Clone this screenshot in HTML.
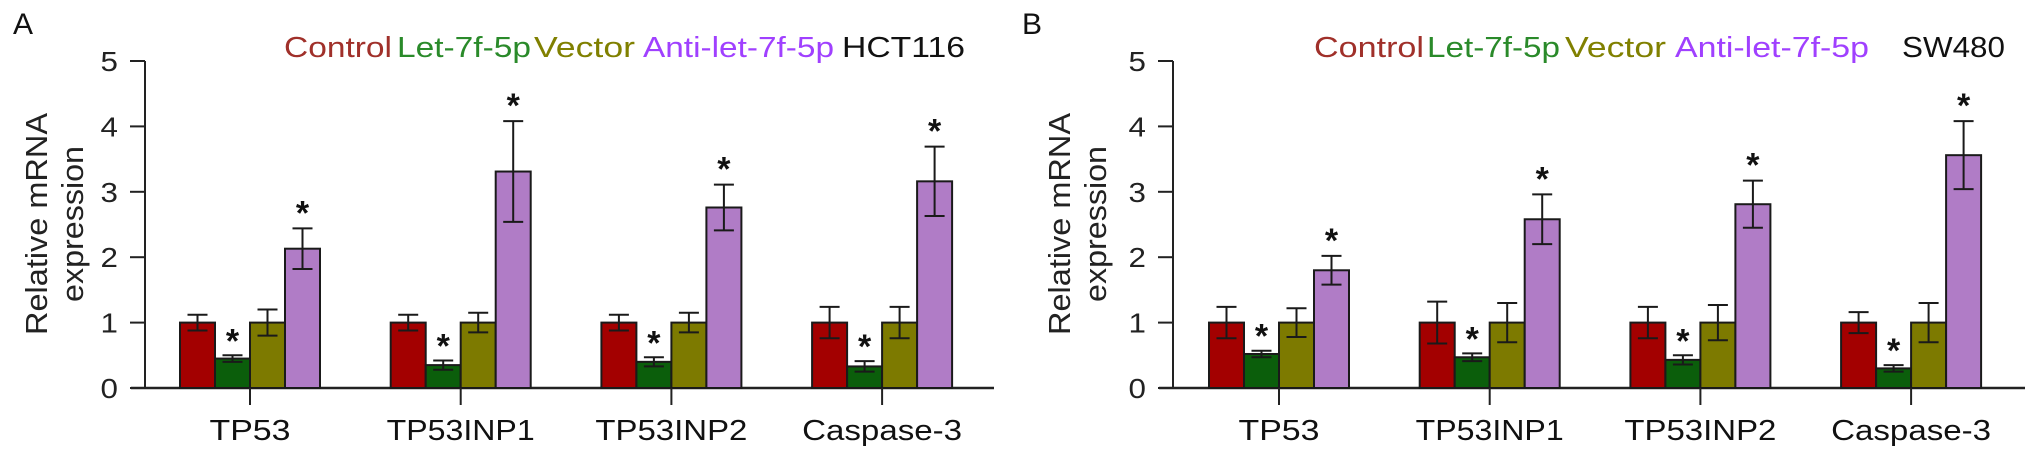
<!DOCTYPE html>
<html><head><meta charset="utf-8"><style>
html,body{margin:0;padding:0;background:#fff;}
svg{display:block;font-family:"Liberation Sans",Arial,sans-serif;}
</style></head><body>
<svg id="c" width="2031" height="459" viewBox="0 0 2031 459" xmlns="http://www.w3.org/2000/svg"></svg>
<script>
const categories = ["TP53","TP53INP1","TP53INP2","Caspase-3"];
const seriesNames = ["Control","Let-7f-5p","Vector","Anti-let-7f-5p"];
const yTicks = [0,1,2,3,4,5];
// Panel A (HCT116)
const aControl = [1,1,1,1];
const aControlErr = [0.12,0.12,0.12,0.24];
const aLet = [0.45,0.35,0.40,0.33];
const aLetErr = [0.05,0.07,0.07,0.08];
const aVector = [1,1,1,1];
const aVectorErr = [0.20,0.15,0.15,0.24];
const aAnti = [2.13,3.31,2.76,3.16];
const aAntiErr = [0.31,0.77,0.35,0.53];
// Panel B (SW480)
const bControl = [1,1,1,1];
const bControlErr = [0.24,0.32,0.24,0.16];
const bLet = [0.52,0.47,0.43,0.30];
const bLetErr = [0.05,0.06,0.07,0.05];
const bVector = [1,1,1,1];
const bVectorErr = [0.22,0.30,0.27,0.30];
const bAnti = [1.80,2.58,2.81,3.56];
const bAntiErr = [0.22,0.38,0.36,0.52];

const NS="http://www.w3.org/2000/svg";
const svg=document.getElementById('c');
function mk(tag,attrs,parent){const e=document.createElementNS(NS,tag);for(const k in attrs)e.setAttribute(k,attrs[k]);(parent||svg).appendChild(e);return e;}
const fills=["#a30000","#0b5e0b","#7d7a00","#b07cc6"];
const legendColors=["#a0302a","#2a8a2a","#808000","#a040ff"];

function panel(cfg){
  const g=mk('g',{});
  
  
  const y0=388, unit=65.4;
  const ys=v=>y0-v*unit;
  const xs=i=>cfg.c0+i*cfg.step;
  const L=mk('text',{x:cfg.letterX,y:34,'font-size':30,fill:'#111'},g);L.textContent=cfg.id;
  
  
  const t1=mk('text',{transform:`translate(${cfg.titleX1},224) rotate(-90)`,'text-anchor':'middle','font-size':31,fill:'#222',textLength:222,lengthAdjust:'spacingAndGlyphs'},g);t1.textContent='Relative mRNA';
  
  
  const t2=mk('text',{transform:`translate(${cfg.titleX2},224) rotate(-90)`,'text-anchor':'middle','font-size':31,fill:'#222',textLength:156,lengthAdjust:'spacingAndGlyphs'},g);t2.textContent='expression';
  
  
  const ya=mk('line',{x1:cfg.ax,y1:ys(5),x2:cfg.ax,y2:y0,stroke:'#222','stroke-width':2},g);
  
  
  yTicks.forEach(v=>{
    const tk=mk('line',{x1:cfg.ax-15,y1:ys(v),x2:cfg.ax,y2:ys(v),stroke:'#222','stroke-width':2},g);
    
    
    const tl=mk('text',{x:cfg.ax-27,y:ys(v)+10,'text-anchor':'end','font-size':28,fill:'#222',transform:`translate(${cfg.ax-27},0) scale(1.12,1) translate(${-(cfg.ax-27)},0)`},g);
    tl.textContent=v;
    
    
  });
  const xa=mk('line',{x1:cfg.ax-14,y1:y0,x2:cfg.axEnd,y2:y0,stroke:'#222','stroke-width':2.5},g);
  
  
  const bw=35;
  const series=[[cfg.ctl,cfg.ctlE],[cfg.let,cfg.letE],[cfg.vec,cfg.vecE],[cfg.anti,cfg.antiE]];
  categories.forEach((cat,i)=>{
    const cx=xs(i);
    series.forEach((s,j)=>{
      const v=s[0][i], e=s[1][i];
      const x=cx-70+j*bw;
      const r=mk('rect',{x:x,y:ys(v),width:bw,height:y0-ys(v),fill:fills[j],stroke:'#1a1a1a','stroke-width':2},g);
      
      
      const m=x+bw/2;
      const eb=mk('path',{d:`M${m},${ys(v+e)}V${ys(v-e)}M${m-10},${ys(v+e)}H${m+10}M${m-10},${ys(v-e)}H${m+10}`,stroke:'#1a1a1a','stroke-width':2,fill:'none'},g);
      
      
      if(j===1||j===3){
        const st=mk('text',{x:m,y:ys(v+e)+(j===1?-3:-4),'text-anchor':'middle','font-size':34,'font-weight':'bold',fill:'#111'},g);
        st.textContent='*';
        
        
      }
    });
    const xt=mk('line',{x1:cx,y1:y0,x2:cx,y2:y0+17,stroke:'#222','stroke-width':2},g);
    
    
    const cl=mk('text',{x:cx,y:440,'text-anchor':'middle','font-size':29,fill:'#111',textLength:cfg.catW[i],lengthAdjust:'spacingAndGlyphs'},g);
    cl.textContent=cat;
    
    
  });
  const names=seriesNames.concat([cfg.cell]);
  names.forEach((n,k)=>{
    const lt=mk('text',{x:cfg.leg[k][0],y:57,'font-size':29,fill:k<4?legendColors[k]:'#111',textLength:cfg.leg[k][1]-cfg.leg[k][0],lengthAdjust:'spacingAndGlyphs'},g);
    lt.textContent=n;
    
    
  });
}

panel({id:'A',letterX:13,titleX1:47,titleX2:83,ax:145,axEnd:994,c0:250,step:210.7,
  ctl:aControl,ctlE:aControlErr,let:aLet,letE:aLetErr,vec:aVector,vecE:aVectorErr,anti:aAnti,antiE:aAntiErr,
  catW:[81,148,152,160],cell:'HCT116',
  leg:[[284,392],[397,531],[534,635],[643,834],[842,965]]});
panel({id:'B',letterX:1022,titleX1:1070,titleX2:1106,ax:1173,axEnd:2025,c0:1279,step:210.7,
  ctl:bControl,ctlE:bControlErr,let:bLet,letE:bLetErr,vec:bVector,vecE:bVectorErr,anti:bAnti,antiE:bAntiErr,
  catW:[81,148,152,160],cell:'SW480',
  leg:[[1314,1424],[1427,1560],[1565,1666],[1675,1869],[1902,2005]]});
</script>
</body></html>
